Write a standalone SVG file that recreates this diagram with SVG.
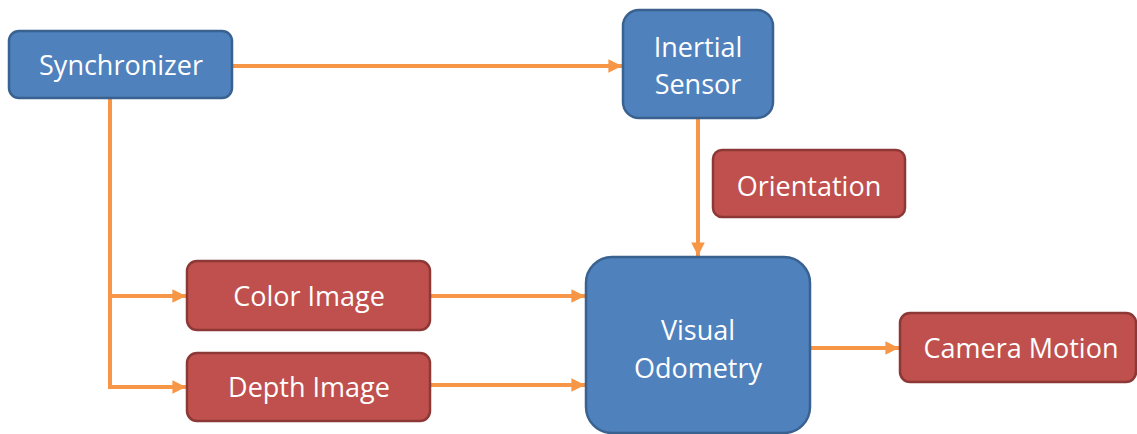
<svg xmlns="http://www.w3.org/2000/svg" width="1137" height="434" viewBox="0 0 1137 434">
  <defs>
    <style>
      .blue { fill: #4F81BD; stroke: #3A6291; stroke-width: 2.5; }
      .red { fill: #C0504D; stroke: #8C3836; stroke-width: 2.5; }
      .label { fill: #FFFFFF; font-family: "Open Sans", "Liberation Sans", sans-serif; font-size: 27px; text-anchor: middle; dominant-baseline: central; }
      .wire { fill: none; stroke: #F79646; stroke-width: 4; stroke-linejoin: miter; }
    </style>
    <marker id="arrow" viewBox="0 0 10 10" refX="10" refY="5" markerWidth="3.4" markerHeight="3.4" markerUnits="strokeWidth" orient="auto">
      <path d="M0,0 L10,5 L0,10 Z" fill="#F79646"/>
    </marker>
  </defs>
  <rect width="1137" height="434" fill="#FFFFFF"/>

  <g id="connectors">
    <path class="wire" d="M232,66 H622" marker-end="url(#arrow)"/>
    <path class="wire" d="M110,98 V387 H186" marker-end="url(#arrow)"/>
    <path class="wire" d="M110,296 H186" marker-end="url(#arrow)"/>
    <path class="wire" d="M698,118 V256" marker-end="url(#arrow)"/>
    <path class="wire" d="M430,296 H585" marker-end="url(#arrow)"/>
    <path class="wire" d="M430,385 H585" marker-end="url(#arrow)"/>
    <path class="wire" d="M810,348 H899" marker-end="url(#arrow)"/>
  </g>

  <g id="synchronizer">
    <rect class="blue" x="9" y="31" width="223" height="67" rx="10"/>
    <text class="label" x="121" y="64">Synchronizer</text>
  </g>

  <g id="inertial-sensor">
    <rect class="blue" x="623" y="10" width="150" height="108" rx="16"/>
    <text class="label" x="698" y="46">Inertial</text>
    <text class="label" x="698" y="83">Sensor</text>
  </g>

  <g id="orientation">
    <rect class="red" x="713" y="150" width="192" height="67" rx="9"/>
    <text class="label" x="809" y="185">Orientation</text>
  </g>

  <g id="color-image">
    <rect class="red" x="187" y="261" width="243" height="69" rx="10"/>
    <text class="label" x="309" y="295">Color Image</text>
  </g>

  <g id="depth-image">
    <rect class="red" x="187" y="353" width="243" height="68" rx="10"/>
    <text class="label" x="309" y="386">Depth Image</text>
  </g>

  <g id="visual-odometry">
    <rect class="blue" x="586" y="257" width="224" height="176" rx="26"/>
    <text class="label" x="698" y="329">Visual</text>
    <text class="label" x="698" y="367">Odometry</text>
  </g>

  <g id="camera-motion">
    <rect class="red" x="900" y="313" width="236" height="69" rx="10"/>
    <text class="label" x="1021" y="347">Camera Motion</text>
  </g>
</svg>
